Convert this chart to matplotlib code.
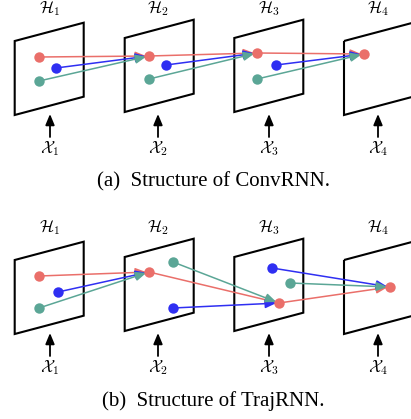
import matplotlib.pyplot as plt
from matplotlib.patches import Polygon, FancyArrowPatch

plt.rcParams["font.family"] = ["Liberation Serif", "DejaVu Serif"]
plt.rcParams["mathtext.fontset"] = "cm"

RED = "#EA6F6A"
BLUE = "#2F2FF2"
GREEN = "#5BA696"

# frame (hidden state) layout, pixel units within one panel
FRAME_LEFT = [14.7, 124.7, 234.3, 344.0]
FRAME_TOP = [41.0, 38.0, 38.0, 41.0]
FRAME_W = 69.0
FRAME_H = 74.0
FRAME_SKEW = 18.3
LABEL_X = [50, 158, 269, 378]
PANEL_OFFSET = [0, 219]

# points on each frame (x, panel-local y)
CONV_RED_X = [39, 149, 257, 364]
CONV_RED_Y = [57, 56, 53, 54]
CONV_BLUE_X = [56, 166, 276]
CONV_BLUE_Y = [68, 65, 65]
CONV_GREEN_X = [39, 149, 257]
CONV_GREEN_Y = [81, 79, 79]

TRAJ_RED_X = [39, 149, 279, 390]
TRAJ_RED_Y = [57, 53, 84, 68]
TRAJ_BLUE_X = [58, 173, 272]
TRAJ_BLUE_Y = [73, 89, 49]
TRAJ_GREEN_X = [39, 173, 290]
TRAJ_GREEN_Y = [89, 43, 64]

CAPTIONS = ["(a)  Structure of ConvRNN.", "(b)  Structure of TrajRNN."]

fig = plt.figure(figsize=(4.11, 4.19), dpi=100)
ax = fig.add_axes([0, 0, 1, 1])
ax.set_xlim(0, 411)
ax.set_ylim(419, 0)
ax.axis("off")


def arrow(x0, y0, x1, y1, color, lw=1.1, shrink_b=2.0):
    a = FancyArrowPatch(
        (x0, y0), (x1, y1),
        arrowstyle="-|>,head_length=0.65,head_width=0.27",
        mutation_scale=10, color=color, lw=lw,
        shrinkA=0, shrinkB=shrink_b, zorder=3,
    )
    ax.add_patch(a)


def draw_panel(off, series, caption):
    for i, left in enumerate(FRAME_LEFT):
        top = FRAME_TOP[i] + off
        corners = [
            (left, top),
            (left + FRAME_W, top - FRAME_SKEW),
            (left + FRAME_W, top - FRAME_SKEW + FRAME_H),
            (left, top + FRAME_H),
        ]
        ax.add_patch(Polygon(corners, closed=True, fill=False,
                             ec="black", lw=1.5, zorder=1))
        lx = LABEL_X[i]
        ax.text(lx, off + 9, r"$\mathcal{H}_%d$" % (i + 1), ha="center",
                va="center", fontsize=12)
        arrow(lx, off + 137, lx, off + 114, "black", lw=1.3, shrink_b=0)
        ax.text(lx, off + 149, r"$\mathcal{X}_%d$" % (i + 1), ha="center",
                va="center", fontsize=12)

    red_x, red_y = series[0][0], series[0][1]
    red_y = [y + off for y in red_y]
    for xs, ys, color in series:
        ys = [y + off for y in ys]
        for t in range(len(xs)):
            if t + 1 < len(red_x):
                arrow(xs[t], ys[t], red_x[t + 1], red_y[t + 1], color)
        ax.plot(xs, ys, "o", color=color, ms=7.5, mec="none", zorder=4)

    ax.text(213, off + 182, caption, ha="center", va="center", fontsize=15)


draw_panel(PANEL_OFFSET[0], [(CONV_RED_X, CONV_RED_Y, RED),
                             (CONV_BLUE_X, CONV_BLUE_Y, BLUE),
                             (CONV_GREEN_X, CONV_GREEN_Y, GREEN)], CAPTIONS[0])
draw_panel(PANEL_OFFSET[1], [(TRAJ_RED_X, TRAJ_RED_Y, RED),
                             (TRAJ_BLUE_X, TRAJ_BLUE_Y, BLUE),
                             (TRAJ_GREEN_X, TRAJ_GREEN_Y, GREEN)], CAPTIONS[1])

fig.savefig("out.png", dpi=100)
plt.close(fig)
